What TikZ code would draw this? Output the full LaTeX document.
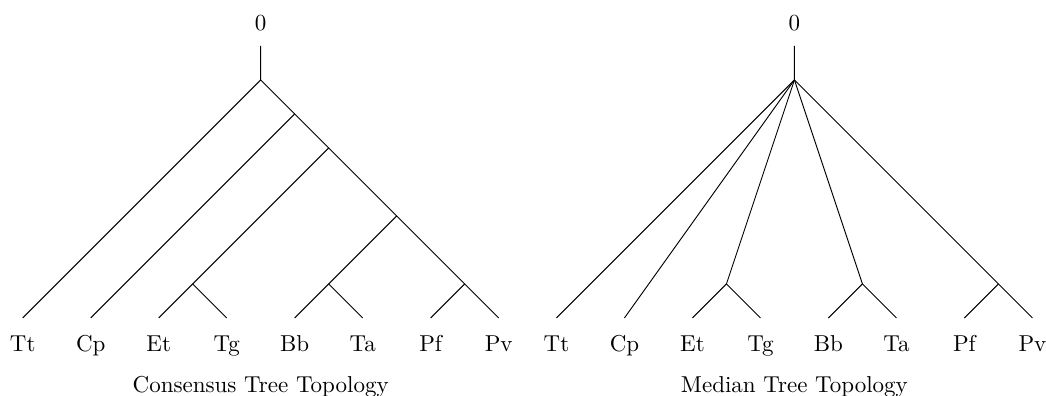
\documentclass[tikz,border=0pt]{standalone}
\begin{document}
\begin{tikzpicture}[x=1.039cm,y=1.039cm, lab/.style={anchor=base}]
 		\useasboundingbox (-0.334,-1.147) rectangle (15.05,4.676);
 		
 		% Consensus tree: leaves
 		\foreach \n [count=\i from 0] in {Tt,Cp,Et,Tg,Bb,Ta,Pf,Pv} {
 			\coordinate (c\n) at (\i,0);
 			\node[lab] (lc\n) at (\i,-0.5) {\n};
 		}
 		
 		% Consensus tree: inner vertices
 		\node[lab] (cZero) at (3.5,4.225) {0};
 		\coordinate (cTop) at (3.5,4);
 		\coordinate (cRoot) at (3.5,3.5);
 		\coordinate (cA) at (4,3);
 		\coordinate (cB) at (4.5,2.5);
 		\coordinate (cC) at (5.5,1.5);
 		\coordinate (cET) at (2.5,0.5);
 		\coordinate (cBT) at (4.5,0.5);
 		\coordinate (cPP) at (6.5,0.5);
 		
 		% Consensus tree: branches
 		\draw (cTop) -- (cRoot) -- (cTt);
 		\draw (cRoot) -- (cA) -- (cB) -- (cC) -- (cPP) -- (cPv);
 		\draw (cA) -- (cCp);
 		\draw (cB) -- (cET) -- (cEt);
 		\draw (cET) -- (cTg);
 		\draw (cC) -- (cBT) -- (cBb);
 		\draw (cBT) -- (cTa);
 		\draw (cPP) -- (cPf);
 		
 		\node[lab] (cCap) at (3.5,-1.094) {Consensus Tree Topology};
 		
 		\begin{scope}[shift={(7.85,0)}]
 			% Median tree: leaves
 			\foreach \n [count=\i from 0] in {Tt,Cp,Et,Tg,Bb,Ta,Pf,Pv} {
 				\coordinate (m\n) at (\i,0);
 				\node[lab] (lm\n) at (\i,-0.5) {\n};
 			}
 			
 			% Median tree: inner vertices
 			\node[lab] (mZero) at (3.5,4.225) {0};
 			\coordinate (mTop) at (3.5,4);
 			\coordinate (mRoot) at (3.5,3.5);
 			\coordinate (mET) at (2.5,0.5);
 			\coordinate (mBT) at (4.5,0.5);
 			\coordinate (mPP) at (6.5,0.5);
 			
 			% Median tree: branches
 			\draw (mTop) -- (mRoot) -- (mTt);
 			\draw (mRoot) -- (mCp);
 			\draw (mRoot) -- (mET) -- (mEt);
 			\draw (mET) -- (mTg);
 			\draw (mRoot) -- (mBT) -- (mBb);
 			\draw (mBT) -- (mTa);
 			\draw (mRoot) -- (mPP) -- (mPv);
 			\draw (mPP) -- (mPf);
 			
 			\node[lab] (mCap) at (3.5,-1.094) {Median Tree Topology};
 		\end{scope}
 	\end{tikzpicture}
\end{document}
